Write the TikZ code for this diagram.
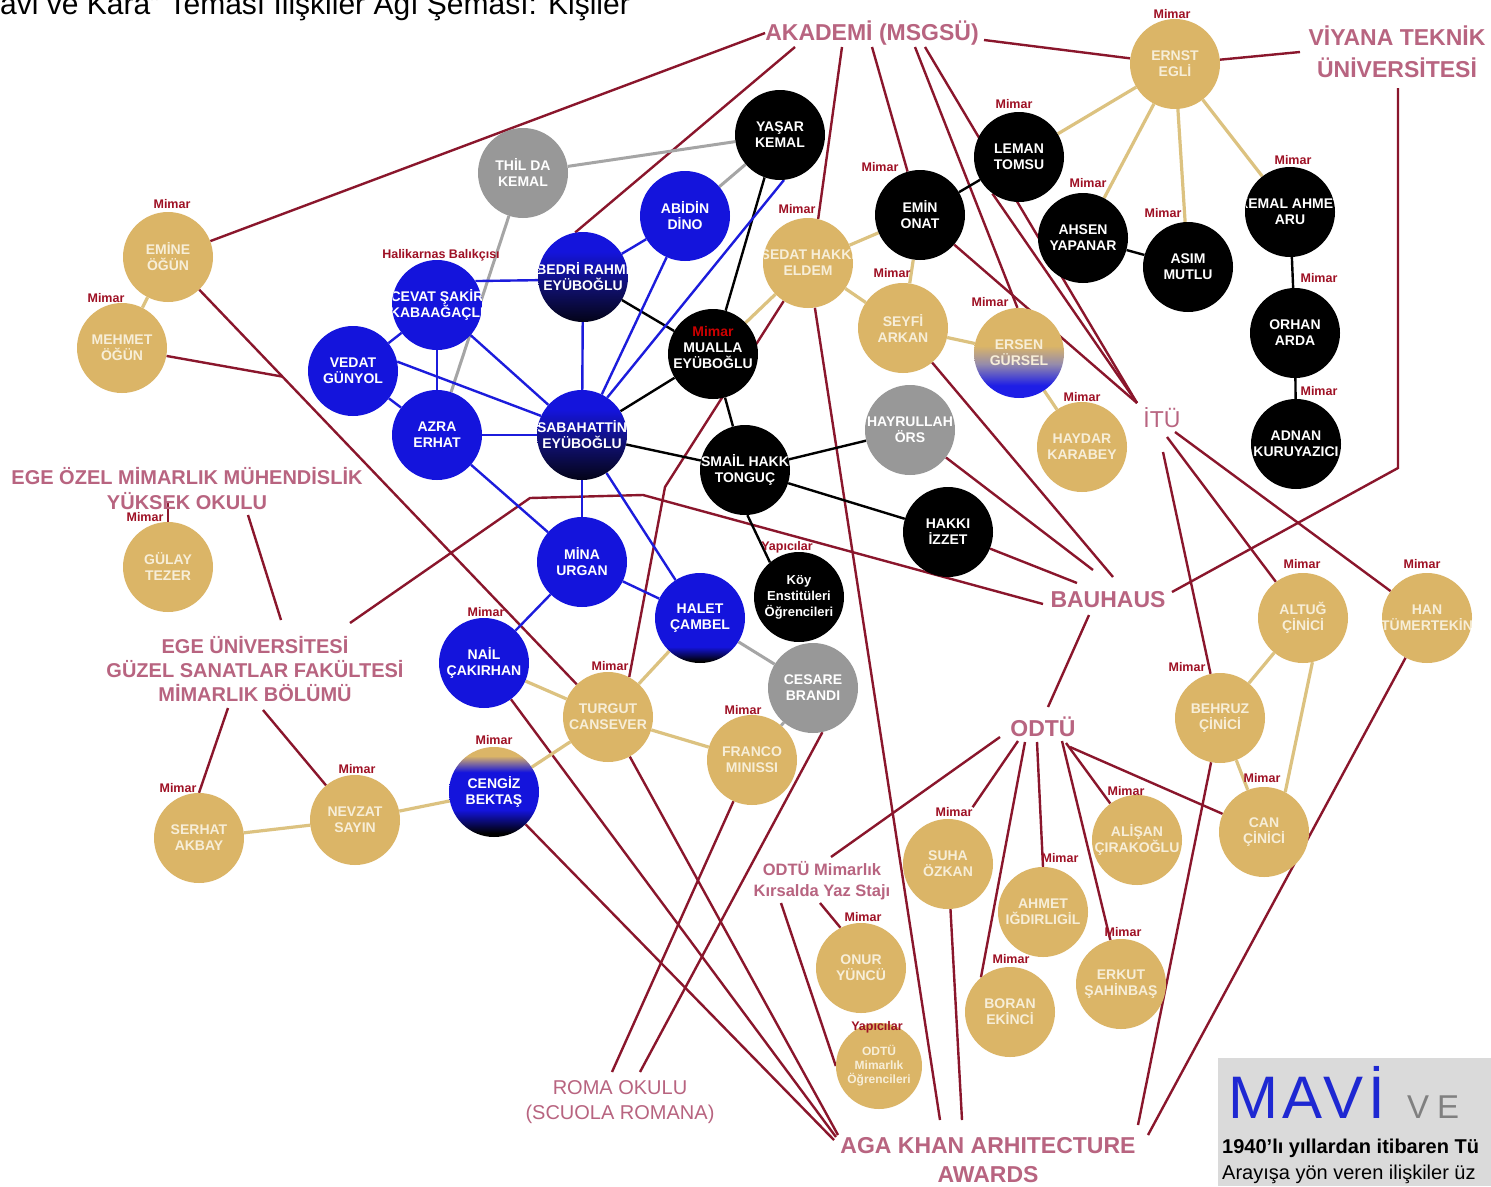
\documentclass[tikz,border=0pt]{standalone}
\usepackage{fontspec}
\setmainfont{Liberation Sans}
\newfontfamily\mavifont[LetterSpace=8]{Liberation Sans}
\usetikzlibrary{calc}
\pgfdeclarelayer{bg}
\pgfdeclarelayer{paper}
\pgfsetlayers{paper,bg,main}
\definecolor{goldc}{RGB}{219,181,103}
\definecolor{goldt}{RGB}{247,238,216}
\definecolor{goldl}{RGB}{220,194,128}
\definecolor{bluec}{RGB}{20,20,220}
\definecolor{bluel}{RGB}{28,28,220}
\definecolor{greyc}{RGB}{152,152,152}
\definecolor{greyl}{RGB}{165,165,165}
\definecolor{maroon}{RGB}{138,22,44}
\definecolor{instc}{RGB}{184,100,128}
\definecolor{mimc}{RGB}{158,16,36}
\definecolor{navyA}{RGB}{4,4,28}
\definecolor{navyB}{RGB}{16,16,112}
\definecolor{blueE}{RGB}{30,30,230}
\definecolor{purpE}{RGB}{150,140,170}
\definecolor{boxc}{RGB}{218,218,218}
\definecolor{maviblue}{RGB}{30,40,210}
\pgfdeclareverticalshading{navysh}{100bp}{color(0bp)=(navyA); color(26bp)=(navyA); color(45bp)=(navyB); color(64bp)=(bluec); color(100bp)=(bluec)}
\pgfdeclareverticalshading{haletsh}{100bp}{color(0bp)=(black); color(26bp)=(black); color(34bp)=(bluec); color(100bp)=(bluec)}
\pgfdeclareverticalshading{cengizsh}{100bp}{color(0bp)=(black); color(27bp)=(black); color(40bp)=(bluec); color(61bp)=(bluec); color(70bp)=(goldc); color(100bp)=(goldc)}
\pgfdeclareverticalshading{ersensh}{100bp}{color(0bp)=(blueE); color(32bp)=(blueE); color(44bp)=(purpE); color(54bp)=(goldc); color(100bp)=(goldc)}
\tikzset{
  pers/.style={circle, minimum size=90pt, inner sep=0pt},
  pgold/.style={pers, fill=goldc},
  pblk/.style={pers, fill=black},
  pgry/.style={pers, fill=greyc},
  pblu/.style={pers, fill=bluec},
  ptxt/.style={font=\bfseries\fontsize{14}{16}\selectfont, align=center, inner sep=0pt},
  mim/.style={font=\bfseries\fontsize{12.5}{14}\selectfont, text=mimc, inner sep=0pt},
  inst/.style={font=\bfseries\fontsize{23}{27}\selectfont, text=instc, align=center, inner sep=0pt},
  rl/.style={draw=maroon, line width=2.4pt},
  gl/.style={draw=goldl, line width=3.2pt},
  bl/.style={draw=bluel, line width=2.4pt},
  kl/.style={draw=black, line width=2.4pt},
  gyl/.style={draw=greyl, line width=3pt},
}
\newcommand\Pers[5]{\node[#2,path picture={\node[ptxt,#4] at (path picture bounding box.center) {#5};}] (#1) at (#3) {};}
\begin{document}
\begin{tikzpicture}[x=1pt,y=-1pt]
\useasboundingbox (0,0) rectangle (1491,1186);
\begin{pgfonlayer}{paper}
\fill[white] (0,0) rectangle (1491,1186);
\end{pgfonlayer}
% ---------- title and legend box (clipped at the page edge)
\begin{scope}
\clip (0,0) rectangle (1491,1186);
\node[anchor=base west, inner sep=0pt, font=\fontsize{30}{30}\selectfont] (title) at (0,14) {avi ve Kara” Teması İlişkiler Ağı Şeması: Kişiler};
\fill[boxc] (1218,1058) rectangle (1491,1186);
\node[anchor=base west, inner sep=0pt, text=maviblue, font=\mavifont\fontsize{60}{60}\selectfont] (mavi) at (1228,1118) {MAVİ};
\node[anchor=base west, inner sep=0pt, text=gray, font=\fontsize{33}{33}\selectfont] (ve) at (1407,1118) {V\kern8pt E};
\node[anchor=base west, inner sep=0pt, font=\bfseries\fontsize{20}{20}\selectfont] (t1) at (1222,1153) {1940’lı yıllardan itibaren Tü};
\node[anchor=base west, inner sep=0pt, font=\fontsize{20}{20}\selectfont] (t2) at (1222,1179) {Arayışa yön veren ilişkiler üz};
\end{scope}
% ---------- gold persons
\Pers{emine}{pgold}{168,257}{text=goldt}{EMİNE\\ÖĞÜN}
\Pers{mehmet}{pgold}{122,348}{text=goldt}{MEHMET\\ÖĞÜN}
\Pers{ernst}{pgold}{1175,64}{text=goldt}{ERNST\\EGLİ}
\Pers{sedat}{pgold}{808,263}{text=goldt}{SEDAT HAKKI\\ELDEM}
\Pers{seyfi}{pgold}{903,328}{text=goldt}{SEYFİ\\ARKAN}
\Pers{ersen}{pers,shade,shading=ersensh}{1019,353}{text=goldt}{ERSEN\\GÜRSEL}
\Pers{haydar}{pgold}{1082,447}{text=goldt}{HAYDAR\\KARABEY}
\Pers{gulay}{pgold}{168,567}{text=goldt}{GÜLAY\\TEZER}
\Pers{turgut}{pgold}{608,717}{text=goldt}{TURGUT\\CANSEVER}
\Pers{franco}{pgold}{752,760}{text=goldt}{FRANCO\\MINISSI}
\Pers{nevzat}{pgold}{355,820}{text=goldt}{NEVZAT\\SAYIN}
\Pers{serhat}{pgold}{199,838}{text=goldt}{SERHAT\\AKBAY}
\Pers{altug}{pgold}{1303,618}{text=goldt}{ALTUĞ\\ÇİNİCİ}
\Pers{han}{pgold}{1427,618}{text=goldt}{HAN\\TÜMERTEKİN}
\Pers{behruz}{pgold}{1220,718}{text=goldt}{BEHRUZ\\ÇİNİCİ}
\Pers{can}{pgold}{1264,832}{text=goldt}{CAN\\ÇİNİCİ}
\Pers{suha}{pgold}{948,864}{text=goldt}{SUHA\\ÖZKAN}
\Pers{alisan}{pgold}{1137,840}{text=goldt}{ALİŞAN\\ÇIRAKOĞLU}
\Pers{ahmet}{pgold}{1043,912}{text=goldt}{AHMET\\IĞDIRLIGİL}
\Pers{erkut}{pgold}{1121,984}{text=goldt}{ERKUT\\ŞAHİNBAŞ}
\Pers{boran}{pgold}{1010,1012}{text=goldt}{BORAN\\EKİNCİ}
\Pers{onur}{pgold}{861,968}{text=goldt}{ONUR\\YÜNCÜ}
\Pers{odtuo}{pgold,minimum size=86pt}{879,1066}{text=goldt,font=\bfseries\fontsize{12}{14}\selectfont}{ODTÜ\\Mimarlık\\Öğrencileri}
% ---------- black persons
\Pers{yasar}{pblk}{780,135}{text=white}{YAŞAR\\KEMAL}
\Pers{leman}{pblk}{1019,157}{text=white}{LEMAN\\TOMSU}
\Pers{emin}{pblk}{920,215}{text=white}{EMİN\\ONAT}
\Pers{ahsen}{pblk}{1083,238}{text=white}{AHSEN\\YAPANAR}
\Pers{asim}{pblk}{1188,267}{text=white}{ASIM\\MUTLU}
\Pers{kemal}{pblk}{1290,212}{text=white}{KEMAL AHMET\\ARU}
\Pers{orhan}{pblk}{1295,333}{text=white}{ORHAN\\ARDA}
\Pers{adnan}{pblk}{1296,444}{text=white}{ADNAN\\KURUYAZICI}
\Pers{mualla}{pblk}{713,354}{text=white,yshift=7pt}{{\color{red!80!black}Mimar}\\MUALLA\\EYÜBOĞLU}
\Pers{ismail}{pblk}{745,470}{text=white}{İSMAİL HAKKI\\TONGUÇ}
\Pers{hakki}{pblk}{948,532}{text=white}{HAKKI\\İZZET}
\Pers{koy}{pblk}{799,597}{text=white,font=\bfseries\fontsize{13}{16}\selectfont}{Köy\\Enstitüleri\\Öğrencileri}
% ---------- grey persons
\Pers{thilda}{pgry}{523,173}{text=white}{THİL DA\\KEMAL}
\Pers{hayrullah}{pgry}{910,430}{text=white}{HAYRULLAH\\ÖRS}
\Pers{cesare}{pgry}{813,688}{text=white}{CESARE\\BRANDI}
% ---------- blue persons
\Pers{abidin}{pblu}{685,216}{text=white}{ABİDİN\\DİNO}
\Pers{cevat}{pblu}{437,305}{text=white}{CEVAT ŞAKİR\\KABAAĞAÇLI}
\Pers{vedat}{pblu}{353,371}{text=white}{VEDAT\\GÜNYOL}
\Pers{azra}{pblu}{437,435}{text=white}{AZRA\\ERHAT}
\Pers{mina}{pblu}{582,562}{text=white}{MİNA\\URGAN}
\Pers{nail}{pblu}{484,663}{text=white}{NAİL\\ÇAKIRHAN}
\Pers{halet}{pers,shade,shading=haletsh}{700,618}{text=white}{HALET\\ÇAMBEL}
\Pers{cengiz}{pers,shade,shading=cengizsh}{494,792}{text=white}{CENGİZ\\BEKTAŞ}
\Pers{bedri}{pers,shade,shading=navysh}{583,277}{text=white}{BEDRİ RAHMİ\\EYÜBOĞLU}
\Pers{sabah}{pers,shade,shading=navysh}{582,435}{text=white}{SABAHATTİN\\EYÜBOĞLU}
% ---------- role labels
\node[mim] (mEmine) at (172,204) {Mimar};
\node[mim] (mMehmet) at (106,298) {Mimar};
\node[mim] (mErnst) at (1172,14) {Mimar};
\node[mim] (mLeman) at (1014,104) {Mimar};
\node[mim] (mEmin) at (880,167) {Mimar};
\node[mim] (mSedat) at (797,209) {Mimar};
\node[mim] (mSeyfi) at (892,273) {Mimar};
\node[mim] (mAhsen) at (1088,183) {Mimar};
\node[mim] (mAsim) at (1163,213) {Mimar};
\node[mim] (mKemal) at (1293,160) {Mimar};
\node[mim] (mOrhan) at (1319,278) {Mimar};
\node[mim] (mAdnan) at (1319,391) {Mimar};
\node[mim] (mErsen) at (990,302) {Mimar};
\node[mim] (mHaydar) at (1082,397) {Mimar};
\node[mim] (mGulay) at (145,517) {Mimar};
\node[mim] (mNail) at (486,612) {Mimar};
\node[mim] (mTurgut) at (610,666) {Mimar};
\node[mim] (mFranco) at (743,710) {Mimar};
\node[mim] (mCengiz) at (494,740) {Mimar};
\node[mim] (mNevzat) at (357,769) {Mimar};
\node[mim] (mSerhat) at (178,788) {Mimar};
\node[mim] (mAltug) at (1302,564) {Mimar};
\node[mim] (mHan) at (1422,564) {Mimar};
\node[mim] (mBehruz) at (1187,667) {Mimar};
\node[mim] (mCan) at (1262,778) {Mimar};
\node[mim] (mSuha) at (954,812) {Mimar};
\node[mim] (mAlisan) at (1126,791) {Mimar};
\node[mim] (mAhmet) at (1060,858) {Mimar};
\node[mim] (mErkut) at (1123,932) {Mimar};
\node[mim] (mBoran) at (1011,959) {Mimar};
\node[mim] (mOnur) at (863,917) {Mimar};
\node[mim] (yKoy) at (787,547) {Yapıcılar};
\node[mim] (yOdtu) at (877,1027) {Yapıcılar};
\node[mim] (halik) at (441,255) {Halikarnas Balıkçısı};
% ---------- institutions
\node[inst] (ak) at (872,33) {AKADEMİ (MSGSÜ)};
\node[inst, font=\bfseries\fontsize{23}{32}\selectfont] (viyana) at (1397,52) {VİYANA TEKNİK\\ÜNİVERSİTESİ};
\node[inst, font=\fontsize{23}{27}\selectfont] (itu) at (1162,418) {İTÜ};
\node[inst] (bauhaus) at (1108,600) {BAUHAUS};
\node[inst] (odtu) at (1043,727) {ODTÜ};
\node[inst, font=\bfseries\fontsize{20}{25}\selectfont] (egeozel) at (187,489) {EGE ÖZEL MİMARLIK MÜHENDİSLİK\\YÜKSEK OKULU};
\node[inst, font=\bfseries\fontsize{20}{24}\selectfont] (egeuni) at (255,669) {EGE ÜNİVERSİTESİ\\GÜZEL SANATLAR FAKÜLTESİ\\MİMARLIK BÖLÜMÜ};
\node[inst, font=\fontsize{20}{25}\selectfont] (roma) at (620,1102) {ROMA OKULU\\(SCUOLA ROMANA)};
\node[inst, font=\bfseries\fontsize{23}{29}\selectfont] (aga) at (988,1160) {AGA KHAN ARHITECTURE\\AWARDS};
\node[inst, font=\bfseries\fontsize{16.5}{21}\selectfont] (kirs) at (822,881) {ODTÜ Mimarlık\\Kırsalda Yaz Stajı};
% ---------- connector end points
\coordinate (akA) at (795,47); \coordinate (akB) at (842,47); \coordinate (akC) at (872,47);
\coordinate (akD) at (915,47); \coordinate (akE) at (925,47); \coordinate (akR) at (984,40);
\coordinate (viW) at (1300,52); \coordinate (viS) at (1398,88); \coordinate (viC) at (1398,468);
\coordinate (ituA) at (1137,403); \coordinate (ituB) at (1163,452); \coordinate (ituC) at (1167,437); \coordinate (ituD) at (1175,432);
\coordinate (bhA) at (1113,577); \coordinate (bhB) at (1093,570); \coordinate (bhC) at (1077,583);
\coordinate (bhD) at (1043,604); \coordinate (bhE) at (1172,592); \coordinate (bhS) at (1089,615);
\coordinate (odN) at (1048,707); \coordinate (odA) at (1000,737); \coordinate (odB) at (1018,741);
\coordinate (odC) at (1025,742); \coordinate (odD) at (1037,742); \coordinate (odF) at (1062,741);
\coordinate (odE) at (1066,743); \coordinate (odG) at (1070,747);
\coordinate (kN) at (831,857); \coordinate (kA) at (781,903); \coordinate (kB) at (820,903);
\coordinate (agA) at (834,1140); \coordinate (agA2) at (836,1137); \coordinate (agA3) at (838,1135);
\coordinate (agB) at (940,1120); \coordinate (agC) at (962,1120); \coordinate (agD) at (1138,1125); \coordinate (agE) at (1148,1135);
\coordinate (roA) at (612,1072); \coordinate (roB) at (640,1072);
\coordinate (eoA) at (168,503); \coordinate (eoB) at (248,515);
\coordinate (euT) at (281,620); \coordinate (euR) at (350,623); \coordinate (euA) at (228,708); \coordinate (euB) at (263,710);
\coordinate (bend1) at (530,498); \coordinate (bend2) at (643,495);
\coordinate (sb) at (665,487);
\coordinate (jn) at ($(emine)!0.26!(turgut)$);
% ---------- connectors
\begin{pgfonlayer}{bg}
% institutions (maroon)
\draw[rl] (ak.west) -- (emine);
\draw[rl] (akA) -- (bedri.100);
\draw[rl] (akB) -- (sedat.77);
\draw[rl] (akC) -- (emin.106);
\draw[rl] (akD) -- (ersen.92);
\draw[rl] (akE) -- (ituA);
\draw[rl] (akR) -- (ernst);
\draw[rl] (ernst) -- (viW);
\draw[rl] (viS) -- (viC) -- (bhE);
\draw[rl] (leman.234) -- (ituA);
\draw[rl] (emin) -- (ituA);
\draw[rl] (ituB) -- (behruz);
\draw[rl] (ituC) -- (altug);
\draw[rl] (ituD) -- (han);
\draw[rl] (seyfi) -- (bhA);
\draw[rl] (hayrullah) -- (bhB);
\draw[rl] (hakki) -- (bhC);
\draw[rl] (euR) -- (bend1) -- (bend2) -- (bhD);
\draw[rl] (bhS) -- (odN);
\draw[rl] (odA) -- (kN);
\draw[rl] (odB) -- (mSuha.north east);
\draw[rl] (odC) -- (boran.130);
\draw[rl] (odD) -- (ahmet.north);
\draw[rl] (odE) -- (alisan);
\draw[rl] (odF) -- (erkut);
\draw[rl] (odG) -- (can);
\draw[rl] (kB) -- (onur.117);
\draw[rl] (kA) -- (odtuo.west);
\draw[rl] (cengiz) -- (agA);
\draw[rl] (nail) -- (agA2);
\draw[rl] (turgut) -- (agA3);
\draw[rl] (sedat) -- (agB);
\draw[rl] (suha) -- (agC);
\draw[rl] (behruz) -- (agD);
\draw[rl] (han) -- (agE);
\draw[rl] (franco) -- (roA);
\draw[rl] (cesare.-78) -- (roB);
\draw[rl] (emine) -- (turgut);
\draw[rl] (mehmet) -- (jn);
\draw[rl] (sedat) -- (sb) -- (turgut.62);
\draw[rl] (eoA) -- (gulay.north);
\draw[rl] (eoB) -- (euT);
\draw[rl] (euA) -- (serhat.north);
\draw[rl] (euB) -- (nevzat);
% gold
\draw[gl] (emine) -- (mehmet);
\draw[gl] (ernst) -- (leman);
\draw[gl] (ernst) -- (ahsen);
\draw[gl] (ernst) -- (asim);
\draw[gl] (ernst) -- (kemal);
\draw[gl] (sedat) -- (emin);
\draw[gl] (sedat) -- (seyfi);
\draw[gl] (sedat) -- (mualla);
\draw[gl] (emin) -- (seyfi);
\draw[gl] (seyfi) -- (ersen);
\draw[gl] (ersen) -- (haydar);
\draw[gl] (nail) -- (turgut);
\draw[gl] (halet) -- (turgut);
\draw[gl] (turgut) -- (franco);
\draw[gl] (turgut) -- (cengiz);
\draw[gl] (cengiz) -- (nevzat);
\draw[gl] (nevzat) -- (serhat);
\draw[gl] (altug) -- (behruz);
\draw[gl] (altug.-78) -- (can.62);
\draw[gl] (behruz) -- (can);
% black
\draw[kl] (yasar.-110) -- (mualla);
\draw[kl] (bedri) -- (mualla);
\draw[kl] (sabah) -- (mualla);
\draw[kl] (sabah) -- (ismail);
\draw[kl] (mualla) -- (ismail);
\draw[kl] (ismail) -- (hayrullah);
\draw[kl] (ismail) -- (hakki);
\draw[kl] (ismail.-87) -- (koy.130);
\draw[kl] (emin) -- (leman);
\draw[kl] (ahsen) -- (asim);
\draw[kl] (kemal) -- (orhan);
\draw[kl] (orhan) -- (adnan);
% grey
\draw[gyl] (thilda) -- (yasar);
\draw[gyl] (abidin) -- (yasar);
\draw[gyl] (thilda) -- (azra);
\draw[gyl] (halet) -- (cesare);
\draw[gyl] (franco) -- (cesare);
% blue
\draw[bl] (yasar.-85) -- (sabah.56);
\draw[bl] (abidin.-114) -- (sabah.64);
\draw[bl] (abidin) -- (bedri);
\draw[bl] (cevat.32) -- (bedri.184);
\draw[bl] (bedri) -- (sabah);
\draw[bl] (cevat) -- (vedat);
\draw[bl] (cevat) -- (azra);
\draw[bl] (cevat) -- (sabah);
\draw[bl] (vedat) -- (azra);
\draw[bl] (vedat.12) -- (sabah.155);
\draw[bl] (azra) -- (sabah);
\draw[bl] (azra) -- (mina);
\draw[bl] (sabah) -- (mina);
\draw[bl] (sabah) -- (halet);
\draw[bl] (mina) -- (halet);
\draw[bl] (mina) -- (nail);
\end{pgfonlayer}
\end{tikzpicture}
\end{document}
